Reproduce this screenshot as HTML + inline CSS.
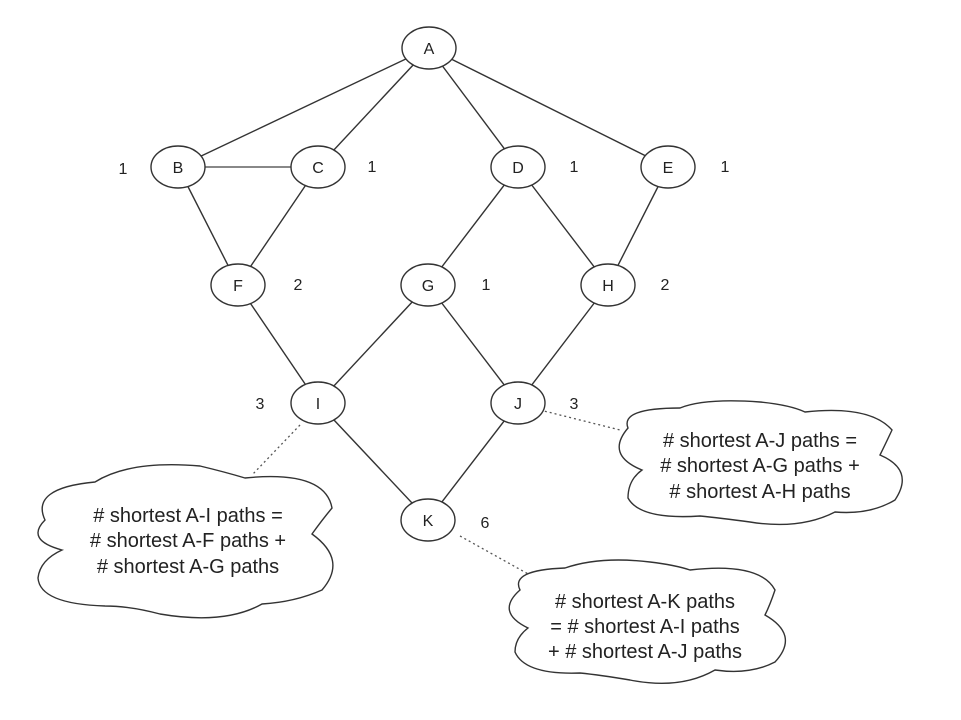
<!DOCTYPE html>
<html><head><meta charset="utf-8"><style>
html,body{margin:0;padding:0;background:#fff;}
svg{display:block;}
text{font-family:"Liberation Sans",sans-serif;fill:#222;}
</style></head><body>
<svg width="961" height="720" viewBox="0 0 961 720" xmlns="http://www.w3.org/2000/svg">
<g stroke="#333" stroke-width="1.4" fill="none">
<line x1="429" y1="48" x2="178" y2="167"/>
<line x1="429" y1="48" x2="318" y2="167"/>
<line x1="429" y1="48" x2="518" y2="167"/>
<line x1="429" y1="48" x2="668" y2="167"/>
<line x1="178" y1="167" x2="318" y2="167" stroke="#888" stroke-width="2"/>
<line x1="178" y1="167" x2="238" y2="285"/>
<line x1="318" y1="167" x2="238" y2="285"/>
<line x1="518" y1="167" x2="428" y2="285"/>
<line x1="518" y1="167" x2="608" y2="285"/>
<line x1="668" y1="167" x2="608" y2="285"/>
<line x1="238" y1="285" x2="318" y2="403"/>
<line x1="428" y1="285" x2="318" y2="403"/>
<line x1="428" y1="285" x2="518" y2="403"/>
<line x1="608" y1="285" x2="518" y2="403"/>
<line x1="318" y1="403" x2="428" y2="520"/>
<line x1="518" y1="403" x2="428" y2="520"/>
</g>
<g stroke="#555" stroke-width="1.3" stroke-dasharray="2,3" fill="none">
<line x1="300" y1="425" x2="252" y2="475"/>
<line x1="540" y1="410" x2="620" y2="430"/>
<line x1="460" y1="536" x2="530" y2="575"/>
</g>
<g stroke="#333" stroke-width="1.4" fill="#fff">
<ellipse cx="429" cy="48" rx="27" ry="21"/>
<ellipse cx="178" cy="167" rx="27" ry="21"/>
<ellipse cx="318" cy="167" rx="27" ry="21"/>
<ellipse cx="518" cy="167" rx="27" ry="21"/>
<ellipse cx="668" cy="167" rx="27" ry="21"/>
<ellipse cx="238" cy="285" rx="27" ry="21"/>
<ellipse cx="428" cy="285" rx="27" ry="21"/>
<ellipse cx="608" cy="285" rx="27" ry="21"/>
<ellipse cx="318" cy="403" rx="27" ry="21"/>
<ellipse cx="518" cy="403" rx="27" ry="21"/>
<ellipse cx="428" cy="520" rx="27" ry="21"/>
<path d="M45,520 Q30,488 95,482 Q130,460 200,466 Q225,472 245,478 Q325,470 332,508 Q322,520 312,534 Q348,560 322,590 Q295,602 262,604 Q225,625 160,614 Q130,606 105,606 Q40,604 38,578 Q40,560 62,550 Q25,540 45,520 Z"/>
<path d="M628,428 Q620,408 680,408 Q705,398 760,402 Q790,405 805,412 Q870,405 892,430 Q885,445 880,455 Q915,470 895,500 Q870,515 835,512 Q800,530 750,522 Q720,518 700,516 Q640,520 628,498 Q628,480 642,470 Q605,455 628,428 Z"/>
<path d="M520,590 Q510,570 565,568 Q600,556 650,562 Q675,565 690,570 Q760,562 775,590 Q770,605 765,615 Q800,635 775,662 Q750,675 715,670 Q680,690 630,680 Q600,675 580,673 Q525,675 515,652 Q515,638 528,628 Q495,612 520,590 Z"/>
</g>
<g font-size="16" text-anchor="middle">
<text x="429" y="54">A</text><text x="178" y="173">B</text><text x="318" y="173">C</text>
<text x="518" y="173">D</text><text x="668" y="173">E</text><text x="238" y="291">F</text>
<text x="428" y="291">G</text><text x="608" y="291">H</text><text x="318" y="409">I</text>
<text x="518" y="409">J</text><text x="428" y="526">K</text>
<text x="123" y="174">1</text><text x="372" y="172">1</text><text x="574" y="172">1</text>
<text x="725" y="172">1</text><text x="298" y="290">2</text><text x="486" y="290">1</text>
<text x="665" y="290">2</text><text x="260" y="409">3</text><text x="574" y="409">3</text>
<text x="485" y="528">6</text>
</g>
<g font-size="20" text-anchor="middle">
<text x="188" y="522">#&#160;shortest A-I paths =</text>
<text x="188" y="547">#&#160;shortest A-F paths +</text>
<text x="188" y="573">#&#160;shortest A-G paths</text>
<text x="760" y="447">#&#160;shortest A-J paths =</text>
<text x="760" y="472">#&#160;shortest A-G paths +</text>
<text x="760" y="498">#&#160;shortest A-H paths</text>
<text x="645" y="608">#&#160;shortest A-K paths</text>
<text x="645" y="633">= #&#160;shortest A-I paths</text>
<text x="645" y="658">+ #&#160;shortest A-J paths</text>
</g>
</svg>
</body></html>
